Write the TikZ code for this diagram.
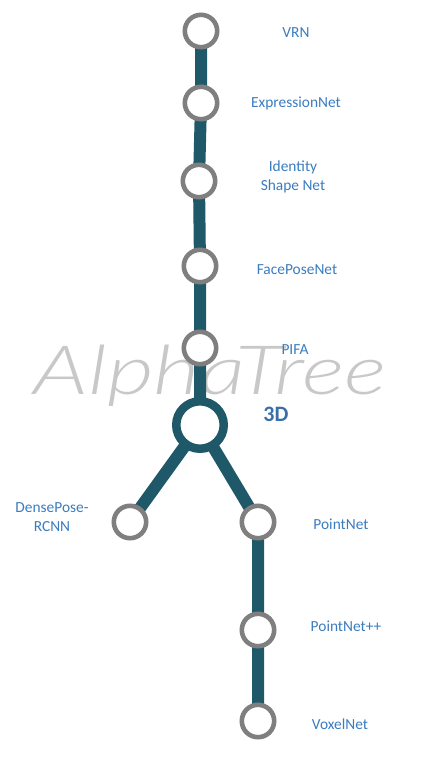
\documentclass[tikz,border=0pt]{standalone}
\usepackage{fontspec}
\setmainfont{Carlito}
\newfontfamily\wmfont{Lato Light}[ItalicFont={Lato Light Italic}]
\definecolor{trunk}{HTML}{1F5868}
\definecolor{ringgray}{HTML}{7F7F7F}
\definecolor{lblblue}{HTML}{3A7CBF}
\definecolor{hubblue}{HTML}{3A6EA6}
\definecolor{wmgray}{HTML}{C8C8C8}
\pgfdeclarelayer{background}
\pgfsetlayers{background,main}
\begin{document}
\begin{tikzpicture}[x=1pt,y=-1pt,
  stop/.style={circle, draw=ringgray, line width=4.6pt, fill=white, minimum size=32.4pt, inner sep=0pt},
  hub/.style={circle, draw=trunk, line width=8.5pt, fill=white, minimum size=47.5pt, inner sep=0pt},
  lbl/.style={text=lblblue, font=\fontsize{15.4}{19}\selectfont, align=center, inner sep=0pt},
  link/.style={draw=trunk, line width=12pt}]
\useasboundingbox (0,0) rectangle (423,757);

% stations
\node[stop] (vrn)  at (201,31)  {};
\node[stop] (expr) at (201,103) {};
\node[stop] (idsn) at (199,181) {};
\node[stop] (fpn)  at (200,266) {};
\node[stop] (pifa) at (200,348) {};
\node[hub]  (hub)  at (200,425) {};
\node[stop] (dp)   at (130,522) {};
\node[stop] (pn)   at (258,522) {};
\node[stop] (pnpp) at (258,630) {};
\node[stop] (vox)  at (258,721) {};

% labels
\node[lbl] (tvrn)  at (296,33)  {VRN};
\node[lbl] (texpr) at (296,103) {ExpressionNet};
\node[lbl] (tidsn) at (293,177) {Identity\\Shape Net};
\node[lbl] (tfpn)  at (297,270) {FacePoseNet};
\node[lbl] (tpifa) at (295,350) {PIFA};
\node[text=hubblue, font=\fontsize{22}{26}\selectfont\bfseries, inner sep=0pt] (thub) at (276,414) {3D};
\node[lbl] (tdp)   at (52,517)  {DensePose-\\RCNN};
\node[lbl] (tpn)   at (341,524) {PointNet};
\node[lbl] (tpnpp) at (346,626) {PointNet++};
\node[lbl] (tvox)  at (340,724) {VoxelNet};

\begin{pgfonlayer}{background}
  % watermark
  \node[text=wmgray, font=\wmfont\itshape\fontsize{68}{76}\selectfont, inner sep=0pt,
        anchor=base west, xscale=1.33] (wm) at (33,394) {AlphaTree};
  % track
  \draw[link] (vrn.center) -- (expr.center) -- (idsn.center) -- (fpn.center)
              -- (pifa.center) -- (hub.center);
  \draw[link] (hub.center) -- (dp.center);
  \draw[link] (hub.center) -- (pn.center) -- (pnpp.center) -- (vox.center);
\end{pgfonlayer}
\end{tikzpicture}
\end{document}
